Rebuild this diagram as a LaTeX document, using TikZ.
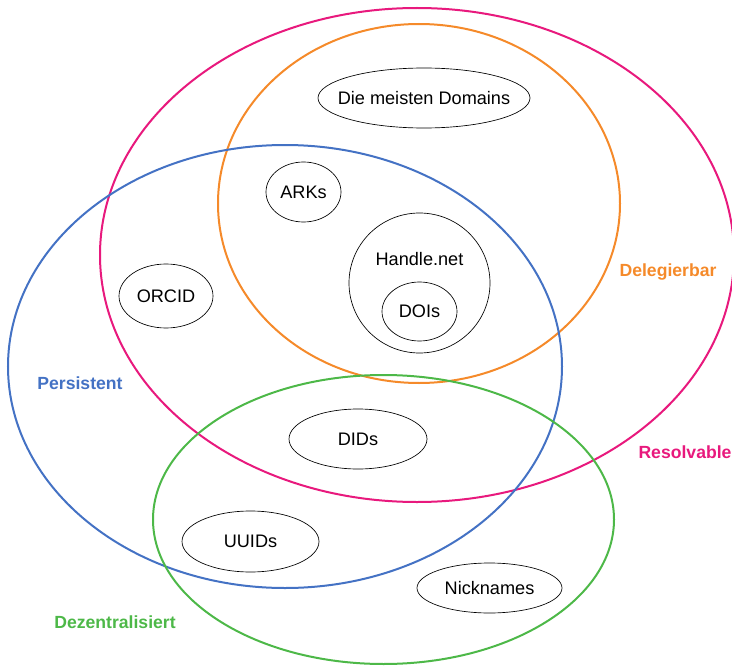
\documentclass[tikz,border=0pt]{standalone}
\usepackage{fontspec}
\setmainfont{Liberation Sans}
\usetikzlibrary{shapes.geometric}

\definecolor{resolv}{HTML}{E8197D}
\definecolor{deleg}{HTML}{F58A2A}
\definecolor{persist}{HTML}{4472C4}
\definecolor{dezent}{HTML}{4DB848}

\begin{document}
\begin{tikzpicture}[
    x=0.75pt, y=-0.75pt,
    set/.style={ellipse, draw, line width=1.5pt, inner sep=0pt},
    item/.style={ellipse, draw, line width=0.5pt, inner xsep=-12pt, inner ysep=-8pt, font=\fontsize{13.6}{15}\selectfont},
    setlabel/.style={font=\fontsize{13.2}{15}\selectfont\bfseries}
]

\useasboundingbox (0,0) rectangle (732,667);

% grosse Mengen
\node[set, resolv, minimum width=634*0.75pt, minimum height=494*0.75pt] (resolvable) at (417,255) {};
\node[set, deleg, minimum width=402*0.75pt, minimum height=359*0.75pt] (delegierbar) at (419,203.5) {};
\node[set, persist, minimum width=554*0.75pt, minimum height=443*0.75pt] (persistent) at (285,366.5) {};
\node[set, dezent, minimum width=461*0.75pt, minimum height=289*0.75pt] (dezentral) at (383.5,519.5) {};

\node[setlabel, deleg] (ldeleg) at (668,272) {Delegierbar};
\node[setlabel, resolv] (lresolv) at (685,452) {Resolvable};
\node[setlabel, persist] (lpersist) at (80,383) {Persistent};
\node[setlabel, dezent] (ldezent) at (115,622) {Dezentralisiert};

% Beispiele
\node[item, minimum width=212*0.75pt, minimum height=60*0.75pt] (domains) at (424,98) {Die meisten Domains};
\node[item, minimum width=75*0.75pt, minimum height=60*0.75pt] (arks) at (303.5,192) {ARKs};
\node[item, minimum width=141*0.75pt, minimum height=140*0.75pt] (handle) at (419.5,283) {};
\node[font=\fontsize{13.6}{15}\selectfont] (handletxt) at (419.5,259) {Handle.net};
\node[item, minimum width=75*0.75pt, minimum height=59*0.75pt] (dois) at (419.5,311.5) {DOIs};
\node[item, minimum width=94*0.75pt, minimum height=64*0.75pt] (orcid) at (166,296) {ORCID};
\node[item, minimum width=138*0.75pt, minimum height=60*0.75pt] (dids) at (358,439) {DIDs};
\node[item, minimum width=137*0.75pt, minimum height=61*0.75pt] (uuids) at (250.5,541.5) {UUIDs};
\node[item, minimum width=145*0.75pt, minimum height=50*0.75pt] (nicknames) at (489.5,588) {Nicknames};

\end{tikzpicture}
\end{document}
